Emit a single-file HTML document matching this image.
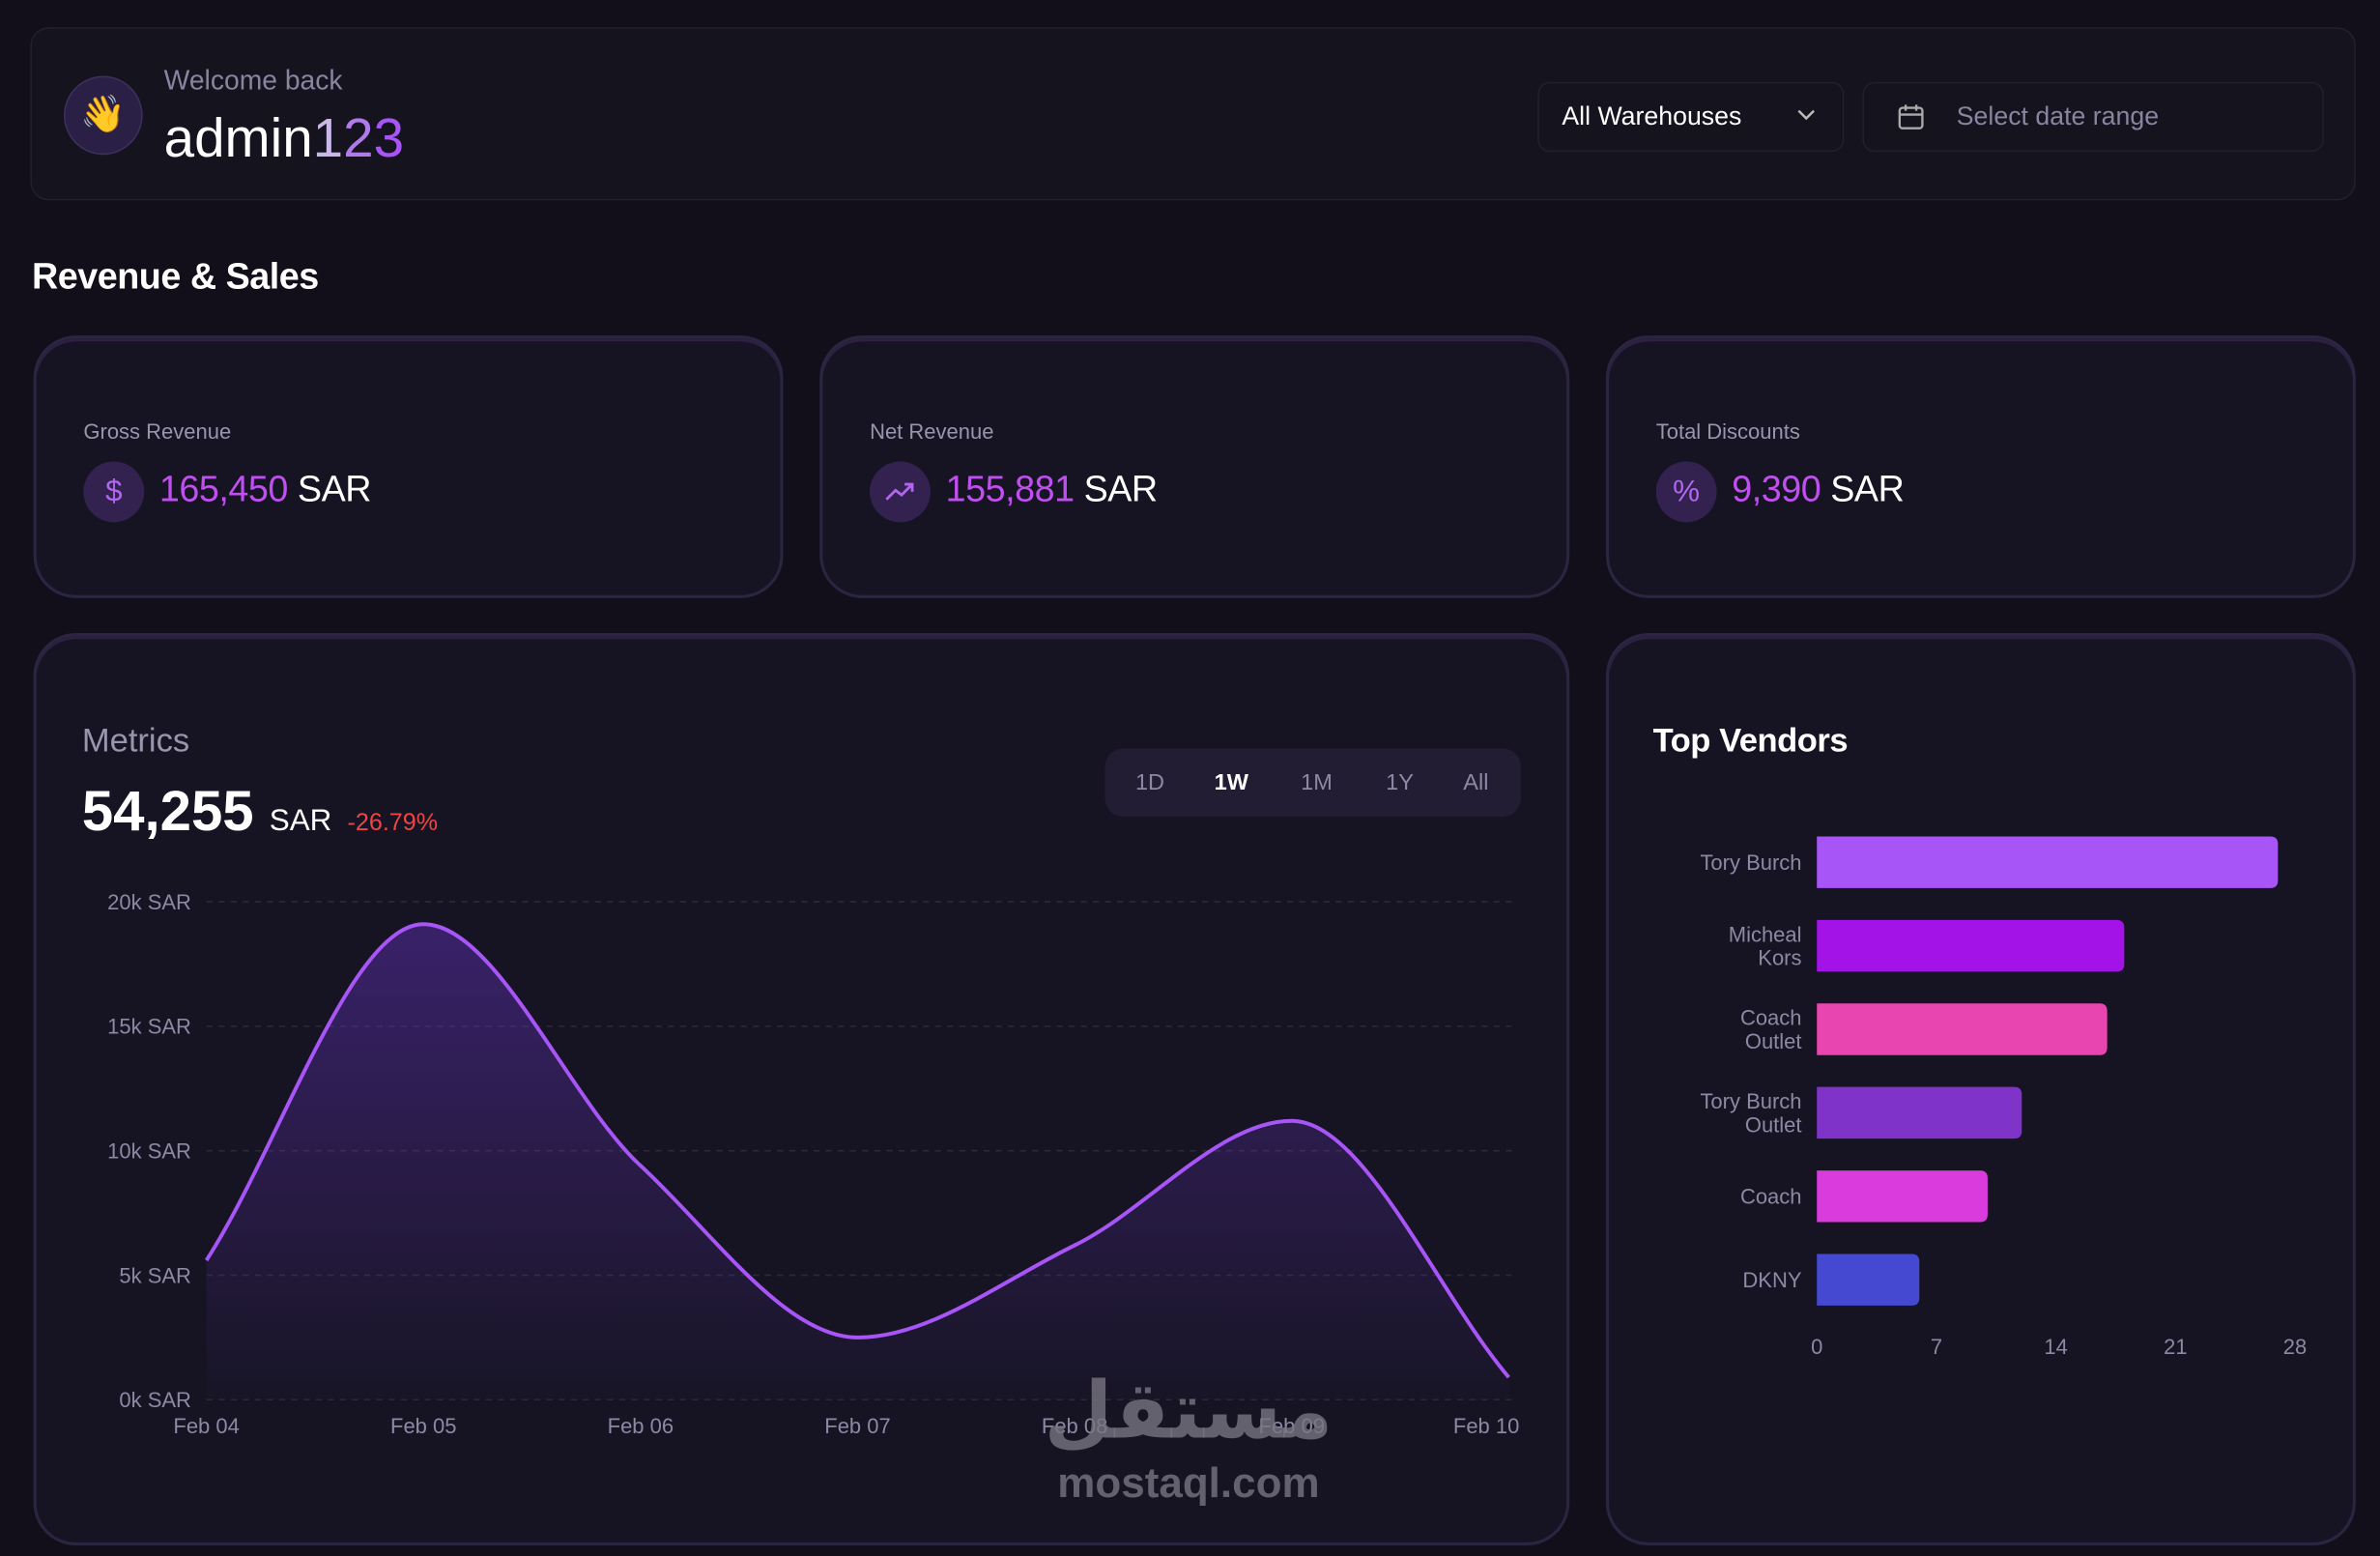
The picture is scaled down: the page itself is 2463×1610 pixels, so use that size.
<!DOCTYPE html>
<html><head><meta charset="utf-8">
<style>
html,body{margin:0;padding:0;background:#120f1b;width:2463px;height:1610px;overflow:hidden;font-family:"Liberation Sans","DejaVu Sans",sans-serif;}
#wrap{position:absolute;left:0;top:0;width:1568px;height:1025px;transform:scale(1.57079);transform-origin:0 0;background:#120f1b;}
.abs{position:absolute;}
.card{position:absolute;background:#161422;border:2px solid #2a2540;box-shadow:inset 0 2px 0 rgba(150,90,220,0.18);}
.kpi-label{position:absolute;left:31px;top:53px;font-size:14px;color:#9a94ad;}
.kpi-icon{position:absolute;left:31px;top:81px;width:40px;height:40px;border-radius:50%;background:#33224f;color:#b266f0;font-size:20px;text-align:center;line-height:40px;}
.kpi-val{position:absolute;left:81px;top:86px;font-size:24px;color:#fff;white-space:nowrap;letter-spacing:-0.3px;}
.kpi-val b{font-weight:normal;color:#c04ff0;}
.seg{position:absolute;top:14px;font-size:15px;color:#8e88a4;}
</style></head><body>
<div id="wrap">
  <div class="abs" style="left:20px;top:18px;width:1530px;height:112px;border:1px solid #221f2e;border-radius:12px;background:#15131e;"></div>
  <div class="abs" style="left:42px;top:50px;width:50px;height:50px;border-radius:50%;background:#2a1f45;border:1px solid #3d2f5e;text-align:center;line-height:50px;font-size:24px;">👋</div>
  <div class="abs" style="left:108px;top:43px;font-size:18px;color:#8a84a0;">Welcome back</div>
  <div class="abs" style="left:108px;top:70px;font-size:36px;color:#fff;">admin<span style="color:#c9b8e8">1</span><span style="color:#b07ae8">2</span><span style="color:#a855f7">3</span></div>
  <div class="abs" style="left:1013px;top:54px;width:200px;height:44px;border:1px solid #221f2e;border-radius:8px;background:#15131e;">
    <span class="abs" style="left:15px;top:12px;font-size:17px;color:#fff;">All Warehouses</span>
    <svg class="abs" style="left:169px;top:16px" width="14" height="10" viewBox="0 0 14 10"><path d="M2 2 L7 7 L12 2" stroke="#bbb" stroke-width="1.6" fill="none"/></svg>
  </div>
  <div class="abs" style="left:1227px;top:54px;width:302px;height:44px;border:1px solid #221f2e;border-radius:8px;background:#15131e;">
    <svg class="abs" style="left:22px;top:13px" width="18" height="18" viewBox="0 0 18 18"><rect x="1.5" y="3" width="15" height="13.5" rx="2" stroke="#aaa" stroke-width="1.5" fill="none"/><path d="M1.5 7.5H16.5M5.5 1v4M12.5 1v4" stroke="#aaa" stroke-width="1.5"/></svg>
    <span class="abs" style="left:61px;top:12px;font-size:17px;color:#8a84a0;">Select date range</span>
  </div>
  <div class="abs" style="left:21px;top:169px;font-size:24px;font-weight:600;color:#fff;letter-spacing:-0.3px;">Revenue &amp; Sales</div>

  <div class="card" style="left:22px;top:221px;width:490px;height:169px;border-radius:28px;">
    <div class="kpi-label">Gross Revenue</div><div class="kpi-icon">$</div><div class="kpi-val"><b>165,450</b> SAR</div></div>
  <div class="card" style="left:540px;top:221px;width:490px;height:169px;border-radius:28px;">
    <div class="kpi-label">Net Revenue</div><div class="kpi-icon"><svg width="20" height="14" viewBox="0 0 20 14" style="margin-top:13px"><path d="M1 12 L7 6 L11 9 L18 2 M13 2h5v5" stroke="#b266f0" stroke-width="1.8" fill="none"/></svg></div><div class="kpi-val"><b>155,881</b> SAR</div></div>
  <div class="card" style="left:1058px;top:221px;width:490px;height:169px;border-radius:28px;">
    <div class="kpi-label">Total Discounts</div><div class="kpi-icon">%</div><div class="kpi-val"><b>9,390</b> SAR</div></div>

  <div class="card" style="left:22px;top:417px;width:1008px;height:597px;border-radius:28px;"></div>
  <div class="abs" style="left:54px;top:475px;font-size:22px;color:#9a94ad;">Metrics</div>
  <div class="abs" style="left:54px;top:514px;font-size:37px;font-weight:bold;color:#fff;white-space:nowrap;">54,255 <span style="font-size:20px;font-weight:normal;">SAR</span> <span style="font-size:16px;font-weight:normal;color:#ef4444;">-26.79%</span></div>
  <div class="abs" style="left:728px;top:493px;width:274px;height:45px;border-radius:12px;background:#221d33;">
    <span class="seg" style="left:20px;">1D</span>
    <span class="seg" style="left:72px;color:#fff;font-weight:bold;">1W</span>
    <span class="seg" style="left:129px;">1M</span>
    <span class="seg" style="left:185px;">1Y</span>
    <span class="seg" style="left:236px;">All</span>
  </div>
  <svg id="line" class="abs" style="left:0;top:0" width="1040" height="1020"></svg>

  <div class="card" style="left:1058px;top:417px;width:490px;height:597px;border-radius:28px;"></div>
  <div class="abs" style="left:1089px;top:475px;font-size:22px;font-weight:600;color:#fff;letter-spacing:-0.3px;">Top Vendors</div>
  <svg id="bars" class="abs" style="left:0;top:0" width="1568" height="1020"></svg>

  <div class="abs" style="left:663px;top:898px;width:240px;text-align:center;color:rgba(120,116,130,0.8);">
    <div style="font-family:'DejaVu Sans',sans-serif;font-size:52px;font-weight:bold;line-height:64px;">مستقل</div>
    <div style="font-size:28px;font-weight:bold;line-height:30px;">mostaql.com</div>
  </div>
</div>
<script>
const NS='http://www.w3.org/2000/svg';
function mk(p,t,a){const e=document.createElementNS(NS,t);for(const k in a)e.setAttribute(k,a[k]);p.appendChild(e);return e;}
// line chart data
const days=['Feb 04','Feb 05','Feb 06','Feb 07','Feb 08','Feb 09','Feb 10'];
const revenue=[5600,19100,9400,2500,6200,11200,900];
const yTicks=[0,5000,10000,15000,20000];
const yTickLabels=['0k SAR','5k SAR','10k SAR','15k SAR','20k SAR'];
const L=document.getElementById('line');
const x0=136,x1=994,yb=922,yt=594,ymax=20000;
const X=i=>x0+(x1-x0)*i/(days.length-1);
const Y=v=>yb-(yb-yt)*v/ymax;
const defs=mk(L,'defs',{});
const g=mk(defs,'linearGradient',{id:'ag',x1:0,y1:0,x2:0,y2:1});
mk(g,'stop',{offset:'0','stop-color':'#7c3aed','stop-opacity':'0.35'});
mk(g,'stop',{offset:'1','stop-color':'#7c3aed','stop-opacity':'0.02'});
yTicks.forEach((t,i)=>{
  const gl=mk(L,'line',{x1:x0,x2:998,y1:Y(t),y2:Y(t),stroke:'#2c283a','stroke-dasharray':'4 4'});
  
  
  const tx=mk(L,'text',{x:126,y:Y(t)+5,'text-anchor':'end','font-size':14,fill:'#8e88a4'});
  tx.textContent=yTickLabels[i];
  
  
});
days.forEach((d,i)=>{
  const last=i===days.length-1;
  const tx=mk(L,'text',{x:last?X(i)+7:X(i),y:944,'text-anchor':last?'end':'middle','font-size':14,fill:'#8e88a4'});
  tx.textContent=d;
  
  
});
const n=revenue.length,xs=days.map((_,i)=>X(i)),ys=revenue.map(Y);
const dl=[],m=[];
for(let i=0;i<n-1;i++)dl.push((ys[i+1]-ys[i])/(xs[i+1]-xs[i]));
for(let i=0;i<n;i++){
  if(i===0)m.push(dl[0]);else if(i===n-1)m.push(dl[n-2]);
  else m.push(dl[i-1]*dl[i]<=0?0:3*(xs[i+1]-xs[i-1])/((2*xs[i+1]-xs[i]-xs[i-1])/dl[i-1]+(xs[i+1]+xs[i]-2*xs[i-1])/dl[i]));
}
let p='M'+xs[0]+','+ys[0];
for(let i=0;i<n-1;i++){const h=(xs[i+1]-xs[i])/3;p+=` C${xs[i]+h},${ys[i]+m[i]*h} ${xs[i+1]-h},${ys[i+1]-m[i+1]*h} ${xs[i+1]},${ys[i+1]}`;}
const area=mk(L,'path',{d:p+` L${xs[n-1]},${yb} L${xs[0]},${yb} Z`,fill:'url(#ag)'});


const ln=mk(L,'path',{d:p,fill:'none',stroke:'#a855f7','stroke-width':2.5});



// bar chart data
const vendors=[['Tory Burch'],['Micheal','Kors'],['Coach','Outlet'],['Tory Burch','Outlet'],['Coach'],['DKNY']];
const vendorValues=[27,18,17,12,10,6];
const vendorColors=['#a855f7','#a313e8','#e845b0','#8033c9','#d93bdc','#4548d0'];
const xTicks=[0,7,14,21,28];
const B=document.getElementById('bars');
const bx0=1197,bx1=1512,bmax=28,by0=568,bstep=55,bh=34;
const BX=v=>bx0+(bx1-bx0)*v/bmax;
vendors.forEach((lab,i)=>{
  const cy=by0+i*bstep,w=BX(vendorValues[i])-bx0,r=5;
  const d=`M${bx0},${cy-bh/2} H${bx0+w-r} Q${bx0+w},${cy-bh/2} ${bx0+w},${cy-bh/2+r} V${cy+bh/2-r} Q${bx0+w},${cy+bh/2} ${bx0+w-r},${cy+bh/2} H${bx0} Z`;
  const b=mk(B,'path',{d:d,fill:vendorColors[i]});
  
  
  lab.forEach((s,j)=>{
    const t=mk(B,'text',{x:1187,y:cy+5+(j-(lab.length-1)/2)*15.5,'text-anchor':'end','font-size':14,fill:'#8e88a4'});
    t.textContent=s;
    
    
  });
});
xTicks.forEach(t=>{
  const tx=mk(B,'text',{x:BX(t),y:892,'text-anchor':'middle','font-size':14,fill:'#8e88a4'});
  tx.textContent=t;
  
  
});
</script>
</body></html>
